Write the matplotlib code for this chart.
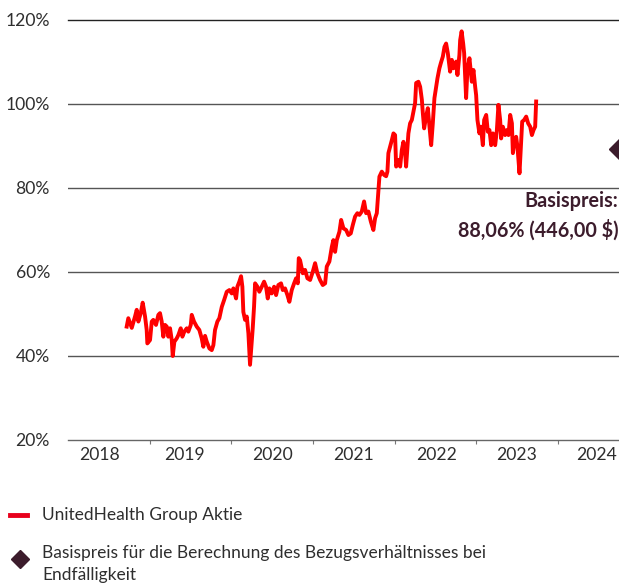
# coding = utf-8

import matplotlib
matplotlib.use("Agg")
import matplotlib.pyplot as plt
from matplotlib.lines import Line2D
import matplotlib.transforms as mtransforms

# Kursverlauf UnitedHealth in % vom Basispreis
years = [
    2018.719, 2018.739, 2018.781, 2018.821, 2018.842, 2018.862, 2018.891, 2018.915, 2018.944, 2018.964,
    2018.972, 2019.005, 2019.026, 2019.045, 2019.078, 2019.107, 2019.127, 2019.148, 2019.168, 2019.189,
    2019.210, 2019.229, 2019.250, 2019.271, 2019.283, 2019.303, 2019.332, 2019.352, 2019.381, 2019.401,
    2019.425, 2019.455, 2019.474, 2019.504, 2019.516, 2019.544, 2019.577, 2019.609, 2019.638, 2019.658,
    2019.679, 2019.700, 2019.732, 2019.761, 2019.781, 2019.801, 2019.830, 2019.854, 2019.884, 2019.912,
    2019.945, 2019.977, 2020.006, 2020.026, 2020.059, 2020.075, 2020.099, 2020.120, 2020.136, 2020.148,
    2020.169, 2020.190, 2020.210, 2020.230, 2020.243, 2020.263, 2020.279, 2020.292, 2020.320, 2020.344,
    2020.374, 2020.402, 2020.426, 2020.447, 2020.467, 2020.496, 2020.525, 2020.549, 2020.577, 2020.610,
    2020.631, 2020.659, 2020.688, 2020.712, 2020.741, 2020.770, 2020.794, 2020.815, 2020.827, 2020.843,
    2020.876, 2020.904, 2020.933, 2020.966, 2020.999, 2021.027, 2021.055, 2021.088, 2021.121, 2021.150,
    2021.170, 2021.202, 2021.232, 2021.251, 2021.272, 2021.293, 2021.325, 2021.346, 2021.374, 2021.407,
    2021.435, 2021.464, 2021.489, 2021.517, 2021.545, 2021.570, 2021.599, 2021.627, 2021.652, 2021.680,
    2021.710, 2021.741, 2021.762, 2021.783, 2021.803, 2021.815, 2021.844, 2021.873, 2021.897, 2021.913,
    2021.925, 2021.946, 2021.967, 2021.987, 2022.007, 2022.020, 2022.048, 2022.069, 2022.089, 2022.109,
    2022.130, 2022.142, 2022.170, 2022.191, 2022.212, 2022.232, 2022.252, 2022.265, 2022.293, 2022.314,
    2022.335, 2022.347, 2022.363, 2022.387, 2022.408, 2022.428, 2022.449, 2022.469, 2022.489, 2022.510,
    2022.526, 2022.550, 2022.567, 2022.592, 2022.612, 2022.632, 2022.653, 2022.681, 2022.702, 2022.722,
    2022.755, 2022.771, 2022.795, 2022.804, 2022.822, 2022.841, 2022.853, 2022.865, 2022.877, 2022.893,
    2022.918, 2022.947, 2022.967, 2022.988, 2023.000, 2023.016, 2023.040, 2023.058, 2023.082, 2023.098,
    2023.123, 2023.143, 2023.163, 2023.184, 2023.205, 2023.233, 2023.254, 2023.273, 2023.294, 2023.306,
    2023.327, 2023.355, 2023.376, 2023.396, 2023.417, 2023.438, 2023.450, 2023.466, 2023.490, 2023.506,
    2023.531, 2023.548, 2023.564, 2023.588, 2023.613, 2023.637, 2023.662, 2023.683, 2023.703, 2023.723,
    2023.735,
]
kurs = [
    47.0, 49.0, 46.7, 49.4, 51.0, 48.2, 50.2, 52.7, 49.4, 46.2,
    43.0, 43.8, 48.2, 48.6, 47.4, 49.8, 50.2, 48.2, 44.6, 47.4,
    47.0, 44.6, 46.6, 43.8, 40.0, 43.4, 44.2, 45.0, 46.6, 44.6,
    45.8, 46.6, 45.8, 47.4, 49.8, 48.2, 47.0, 46.2, 44.2, 42.2,
    44.8, 43.4, 41.8, 41.4, 42.6, 46.2, 48.2, 49.0, 51.7, 53.3,
    55.3, 55.7, 54.9, 56.1, 53.7, 56.5, 57.7, 59.0, 56.5, 50.5,
    48.6, 49.4, 45.4, 37.9, 41.4, 46.6, 51.7, 57.3, 56.5, 55.3,
    56.5, 57.7, 56.5, 53.7, 56.1, 54.9, 56.5, 54.5, 56.9, 57.3,
    55.7, 56.1, 54.5, 52.9, 55.7, 57.3, 58.5, 57.3, 63.3, 62.8,
    59.7, 60.5, 58.5, 58.1, 60.1, 62.1, 59.7, 58.1, 56.9, 57.3,
    61.3, 62.5, 66.0, 67.6, 64.8, 67.6, 69.6, 72.4, 70.4, 70.0,
    68.8, 69.2, 71.2, 73.2, 74.0, 73.6, 74.4, 76.8, 74.0, 74.4,
    72.0, 70.0, 72.8, 74.0, 79.5, 82.7, 83.9, 83.1, 82.8, 83.9,
    88.3, 89.8, 91.4, 93.0, 92.6, 85.1, 86.7, 85.1, 89.0, 91.0,
    88.3, 85.1, 93.0, 95.4, 96.2, 98.2, 100.2, 105.0, 105.3, 104.1,
    101.0, 97.8, 94.2, 97.0, 99.0, 94.6, 90.2, 95.4, 101.4, 104.1,
    106.1, 108.5, 109.7, 111.3, 113.6, 114.4, 112.1, 107.7, 110.5, 108.5,
    110.1, 106.9, 111.7, 115.2, 117.3, 114.4, 112.1, 106.6, 101.4, 108.1,
    110.9, 105.3, 108.1, 104.1, 102.1, 96.2, 93.0, 94.6, 90.2, 96.2,
    97.4, 93.4, 93.8, 90.2, 93.0, 90.2, 93.8, 99.8, 96.2, 91.8,
    94.6, 92.6, 93.8, 92.6, 97.4, 95.4, 88.3, 90.6, 92.2, 89.8,
    83.5, 89.8, 95.8, 96.2, 97.0, 95.4, 94.6, 92.6, 93.8, 94.6,
    100.6,
]

# Basispreis-Markierung
basis_x = 2024.75
basis_y = 89.4
basis_text = "Basispreis:\n88,06% (446,00 $)"

year_labels = ["2018", "2019", "2020", "2021", "2022", "2023", "2024"]
y_ticks = [20, 40, 60, 80, 100, 120]

legend_line = "UnitedHealth Group Aktie"
legend_diamond = "Basispreis für die Berechnung des Bezugsverhältnisses bei\nEndfälligkeit"

red = "#ff0000"
purple = "#3c1c2c"
grey_text = "#2e2e2e"

plt.rcParams["font.family"] = ["Lato", "DejaVu Sans"]

W, H = 619, 585
fig = plt.figure(figsize=(W / 100, H / 100), dpi=100)
ax = fig.add_axes([68 / W, 1 - 440 / H, 551 / W, 420 / H])

ax.plot(years, kurs, color=red, lw=2.8, solid_joinstyle="round", zorder=3)
ax.plot([basis_x], [basis_y], marker="D", markersize=10, color=purple, clip_on=True, zorder=4)

trans = mtransforms.blended_transform_factory(ax.transAxes, ax.transData)
ax.text(0.999, 73.4, basis_text, transform=trans, ha="right", va="center",
        fontsize=14.2, fontweight="bold", color=purple, linespacing=1.5)

ax.set_xlim(2018, 2024.75)
ax.set_ylim(20, 120)

# y-Achse
ax.set_yticks(y_ticks)
ax.set_yticklabels([f"{v}%" for v in y_ticks])
ax.tick_params(axis="y", length=0, pad=13, labelsize=12.6, labelcolor=grey_text)
for v in y_ticks[1:-1]:
    ax.axhline(v, color="#555555", lw=1.0, zorder=1)

# x-Achse: Striche an Jahresgrenzen, Beschriftung etwa in der Jahresmitte
label_pos = [2018.38, 2019.43, 2020.5, 2021.5, 2022.52, 2023.5, 2024.47]
ax.set_xticks(range(2019, 2025))
ax.set_xticklabels([])
ax.set_xticks(label_pos, minor=True)
ax.set_xticklabels(year_labels, minor=True)
ax.tick_params(axis="x", which="major", length=3, color="#777777", direction="out")
ax.tick_params(axis="x", which="minor", length=0, pad=5, labelsize=12.6, labelcolor=grey_text)

for s in ["left", "right"]:
    ax.spines[s].set_visible(False)
ax.spines["top"].set_color("#222222")
ax.spines["top"].set_linewidth(1.0)
ax.spines["bottom"].set_color("#666666")
ax.spines["bottom"].set_linewidth(1.0)

# Legende unten
fig.add_artist(Line2D([10 / W, 27 / W], [1 - 515 / H, 1 - 515 / H], color="#e8001c", lw=3.5))
fig.text(42 / W, 1 - 515 / H, legend_line, ha="left", va="center", fontsize=12.5, color=grey_text)
fig.add_artist(Line2D([20 / W], [1 - 559 / H], marker="D", markersize=9, color=purple, lw=0))
fig.text(42 / W, 1 - 564 / H, legend_diamond, ha="left", va="center", fontsize=12.5,
         color=grey_text, linespacing=1.45)

plt.savefig("out.png", dpi=100)
